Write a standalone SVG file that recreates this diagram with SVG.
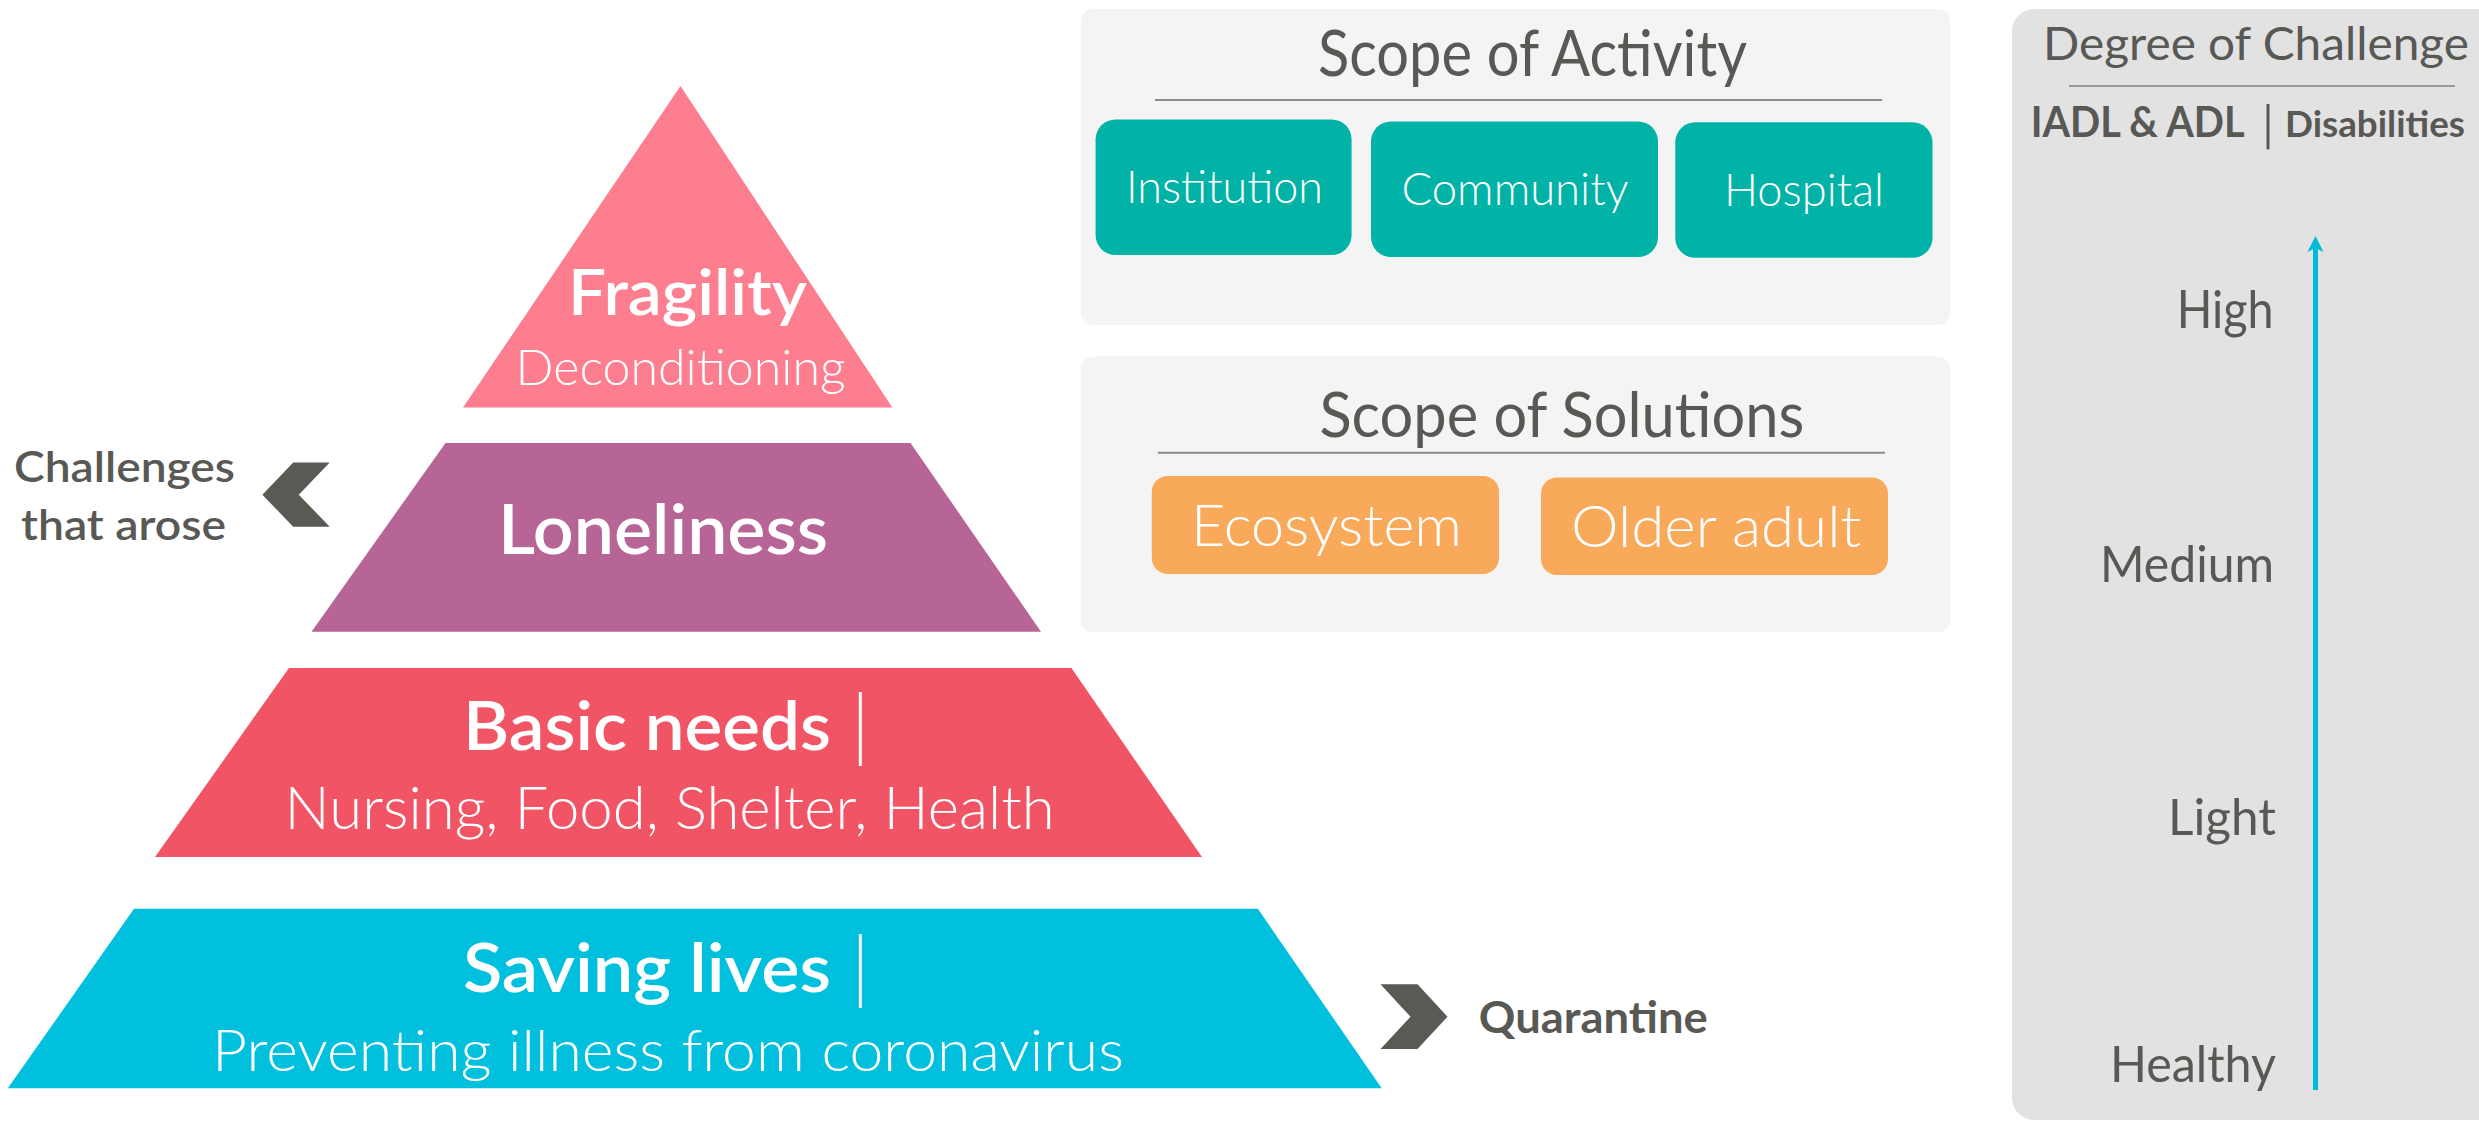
<svg xmlns="http://www.w3.org/2000/svg" width="2479" height="1121" viewBox="0 0 2479 1121">
<style>
text{font-family:Lato,"Noto Sans","Liberation Sans",sans-serif}
.w{fill:#ffffff}
.g{fill:#585854}
.sb{font-weight:600}
.b{font-weight:700}
.l{font-weight:300}
.panel{fill:#F4F4F4}
.rule{stroke:#8a8a8a;stroke-width:2}
.teal{fill:#01B2A6}
.orange{fill:#F8A95A}
.chev{fill:#5A5A55}
</style>
<defs>
<marker id="ah" viewBox="0 0 17 17" refX="5" refY="8.5" markerWidth="17" markerHeight="17" orient="auto" markerUnits="userSpaceOnUse">
<path d="M17,8.5 L1,0.5 L5,8.5 L1,16.5 Z" fill="#00B9DB"/>
</marker>
</defs>
<rect width="2479" height="1121" fill="#ffffff"/>

<g id="pyramid">
<g id="fragility">
<polygon points="680.5,86 892.3,407.5 463,407.5" fill="#FC7E8F"/>
<text x="568" y="314.5" class="w sb" font-size="63" textLength="239" lengthAdjust="spacingAndGlyphs">Fragility</text>
<text x="515.6" y="384.5" class="w l" font-size="49" textLength="330" lengthAdjust="spacingAndGlyphs">Deconditioning</text>
</g>
<g id="loneliness">
<polygon points="445.5,443 910.5,443 1041,631.7 311.5,631.7" fill="#B76496"/>
<text x="498" y="553.6" class="w sb" font-size="70" textLength="330" lengthAdjust="spacingAndGlyphs">Loneliness</text>
</g>
<g id="basic-needs">
<polygon points="289,668 1071.4,668 1202,857 155,857" fill="#F05465"/>
<text x="463" y="750" class="w sb" font-size="67" textLength="368" lengthAdjust="spacingAndGlyphs">Basic needs</text>
<text x="851" y="752" class="w l" font-size="78">|</text>
<text x="284.6" y="829.3" class="w l" font-size="59" textLength="770" lengthAdjust="spacingAndGlyphs">Nursing, Food, Shelter, Health</text>
</g>
<g id="saving-lives">
<polygon points="134,908.7 1257.8,908.7 1381.7,1088.3 7.8,1088.3" fill="#00C0DD"/>
<text x="463" y="991.7" class="w sb" font-size="67" textLength="368" lengthAdjust="spacingAndGlyphs">Saving lives</text>
<text x="851" y="994" class="w l" font-size="78">|</text>
<text x="212" y="1071" class="w l" font-size="58" textLength="912" lengthAdjust="spacingAndGlyphs">Preventing illness from coronavirus</text>
</g>
</g>

<g id="challenges">
<polygon class="chev" points="329.7,462.6 293.2,462.6 262.4,494.7 293.2,526.8 329.7,526.8 298.8,494.7"/>
<text x="14" y="482" class="g sb" font-size="43" textLength="221" lengthAdjust="spacingAndGlyphs">Challenges</text>
<text x="21" y="539.5" class="g sb" font-size="43" textLength="205" lengthAdjust="spacingAndGlyphs">that arose</text>
</g>

<g id="quarantine">
<polygon class="chev" points="1380.5,984.3 1417.5,984.3 1447.5,1016.7 1417.5,1049 1380.5,1049 1410.5,1016.7"/>
<text x="1478.8" y="1033.3" class="g b" font-size="44" textLength="229" lengthAdjust="spacingAndGlyphs">Quarantine</text>
</g>

<g id="scope-activity">
<rect class="panel" x="1081" y="9" width="869" height="316" rx="12"/>
<text x="1318" y="75.9" class="g" font-size="63" textLength="429" lengthAdjust="spacingAndGlyphs">Scope of Activity</text>
<line class="rule" x1="1155" y1="100" x2="1882" y2="100"/>
<g id="institution">
<rect class="teal" x="1095.6" y="119.4" width="256" height="135.6" rx="20"/>
<text x="1126" y="203" class="w l" font-size="45" textLength="197" lengthAdjust="spacingAndGlyphs">Institution</text>
</g>
<g id="community">
<rect class="teal" x="1371" y="121.5" width="287" height="135.5" rx="20"/>
<text x="1401.5" y="205" class="w l" font-size="45" textLength="227" lengthAdjust="spacingAndGlyphs">Community</text>
</g>
<g id="hospital">
<rect class="teal" x="1675.3" y="122.3" width="257.2" height="135.5" rx="20"/>
<text x="1724" y="206" class="w l" font-size="45" textLength="160" lengthAdjust="spacingAndGlyphs">Hospital</text>
</g>
</g>

<g id="scope-solutions">
<rect class="panel" x="1081" y="356.5" width="869" height="275.7" rx="12"/>
<text x="1319.4" y="437.3" class="g" font-size="62" textLength="485" lengthAdjust="spacingAndGlyphs">Scope of Solutions</text>
<line class="rule" x1="1158" y1="452.7" x2="1885" y2="452.7"/>
<g id="ecosystem">
<rect class="orange" x="1151.8" y="475.9" width="347.2" height="98.1" rx="16"/>
<text x="1191" y="546.4" class="w l" font-size="57" textLength="271" lengthAdjust="spacingAndGlyphs">Ecosystem</text>
</g>
<g id="older-adult">
<rect class="orange" x="1541" y="477.5" width="347" height="97.5" rx="16"/>
<text x="1571" y="547" class="w l" font-size="57" textLength="290" lengthAdjust="spacingAndGlyphs">Older adult</text>
</g>
</g>

<g id="degree-of-challenge">
<rect x="2012" y="9" width="520" height="1111" rx="22" fill="#E2E2E2"/>
<text x="2043" y="60" class="g" font-size="46" textLength="426" lengthAdjust="spacingAndGlyphs">Degree of Challenge</text>
<line x1="2069" y1="86" x2="2455" y2="86" stroke="#9a9a9a" stroke-width="2"/>
<text x="2030.7" y="137.3" class="g b" font-size="42" textLength="214" lengthAdjust="spacingAndGlyphs">IADL &amp; ADL</text>
<line x1="2268" y1="104" x2="2268" y2="149.3" stroke="#585854" stroke-width="3"/>
<text x="2285" y="137.3" class="g b" font-size="36" textLength="180" lengthAdjust="spacingAndGlyphs">Disabilities</text>
<text x="2176.7" y="328.3" class="g" font-size="53" textLength="97" lengthAdjust="spacingAndGlyphs">High</text>
<text x="2100" y="581.7" class="g" font-size="50" textLength="174" lengthAdjust="spacingAndGlyphs">Medium</text>
<text x="2168" y="835" class="g" font-size="50" textLength="108" lengthAdjust="spacingAndGlyphs">Light</text>
<text x="2110" y="1081.7" class="g" font-size="50" textLength="166" lengthAdjust="spacingAndGlyphs">Healthy</text>
</g>

<g id="connectors">
<line x1="2315.5" y1="1090" x2="2315.5" y2="248" stroke="#00B9DB" stroke-width="5" marker-end="url(#ah)"/>
</g>
</svg>
